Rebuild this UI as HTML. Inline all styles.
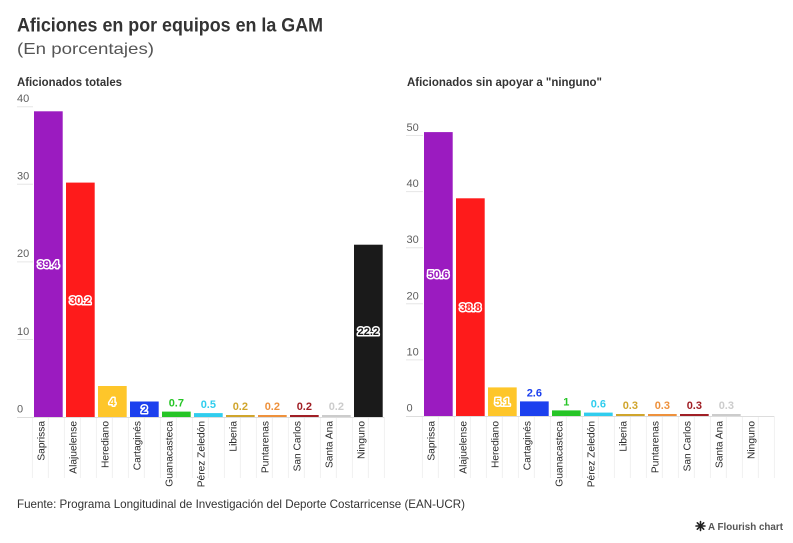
<!DOCTYPE html>
<html>
<head>
<meta charset="utf-8">
<style>
html,body{margin:0;padding:0;background:#fff;}
svg{display:block;}
text{font-family:"Liberation Sans",sans-serif;}
.ax{font-size:11px;fill:#5e5e5e;}
.cat{font-size:10.2px;fill:#2a2a2a;}
.v{font-size:11px;font-weight:bold;stroke:#fff;stroke-width:3px;paint-order:stroke;stroke-linejoin:round;}
</style>
</head>
<body>
<svg width="793" height="543" viewBox="0 0 793 543" xmlns="http://www.w3.org/2000/svg">
<rect width="793" height="543" fill="#fff"/>
<!-- titles -->
<text x="17" y="31.7" font-size="19" font-weight="bold" fill="#333" textLength="306" lengthAdjust="spacingAndGlyphs">Aficiones en por equipos en la GAM</text>
<text x="17" y="54" font-size="16" fill="#555" textLength="137" lengthAdjust="spacingAndGlyphs">(En porcentajes)</text>
<text x="17" y="86" font-size="12" font-weight="bold" fill="#333" textLength="105" lengthAdjust="spacingAndGlyphs">Aficionados totales</text>
<text x="407" y="86" font-size="12" font-weight="bold" fill="#333" textLength="195" lengthAdjust="spacingAndGlyphs">Aficionados sin apoyar a "ninguno"</text>

<!-- separators -->
<path stroke="#f0f0f0" stroke-width="1" fill="none" d="M32.4 417V478M48.35 417V478M64.4 417V478M80.35 417V478M96.4 417V478M112.35 417V478M128.4 417V478M144.35 417V478M160.4 417V478M176.35 417V478M192.4 417V478M208.35 417V478M224.4 417V478M240.35 417V478M256.4 417V478M272.35 417V478M288.4 417V478M304.35 417V478M320.4 417V478M336.35 417V478M352.4 417V478M368.35 417V478M384.4 417V478"/>
<path stroke="#f0f0f0" stroke-width="1" fill="none" d="M422.4 416V478M438.35 416V478M454.4 416V478M470.35 416V478M486.4 416V478M502.35 416V478M518.4 416V478M534.35 416V478M550.4 416V478M566.35 416V478M582.4 416V478M598.35 416V478M614.4 416V478M630.35 416V478M646.4 416V478M662.35 416V478M678.4 416V478M694.35 416V478M710.4 416V478M726.35 416V478M742.4 416V478M758.35 416V478M774.4 416V478"/>

<!-- left axis -->
<path stroke="#e6e6e6" stroke-width="1" d="M17 106.7H33M17 184.3H33M17 261.9H33M17 339.5H33"/>
<path stroke="#dddddd" stroke-width="1" d="M17 417.5H384"/>
<text class="ax" x="17" y="102">40</text>
<text class="ax" x="17" y="179.6">30</text>
<text class="ax" x="17" y="257.2">20</text>
<text class="ax" x="17" y="334.8">10</text>
<text class="ax" x="17" y="412.5">0</text>

<!-- left bars -->
<rect x="34" y="111.3" width="28.7" height="305.7" fill="#9b1bc0"/>
<rect x="66" y="182.6" width="28.7" height="234.4" fill="#fe1b1b"/>
<rect x="98" y="386" width="28.7" height="31" fill="#fec62a"/>
<rect x="130" y="401.5" width="28.7" height="15.5" fill="#1c40ee"/>
<rect x="162" y="411.6" width="28.7" height="5.4" fill="#26c526"/>
<rect x="194" y="413.1" width="28.7" height="3.9" fill="#30cdee"/>
<rect x="226" y="415" width="28.7" height="2" fill="#d0a52c"/>
<rect x="258" y="415" width="28.7" height="2" fill="#ee913c"/>
<rect x="290" y="415" width="28.7" height="2" fill="#a01f25"/>
<rect x="322" y="415" width="28.7" height="2" fill="#cccccc"/>
<rect x="354" y="244.7" width="28.7" height="172.3" fill="#1a1a1a"/>

<!-- left values -->
<g text-anchor="middle">
<text class="v" x="48.35" y="268" fill="#9b1bc0">39.4</text>
<text class="v" x="80.35" y="303.8" fill="#fe1b1b">30.2</text>
<text class="v" x="112.35" y="405.5" fill="#fec62a" font-size="13">4</text>
<text class="v" x="144.35" y="413.2" fill="#1c40ee">2</text>
<text class="v" x="176.35" y="406.6" fill="#26c526">0.7</text>
<text class="v" x="208.35" y="408.1" fill="#30cdee">0.5</text>
<text class="v" x="240.35" y="410" fill="#d0a52c">0.2</text>
<text class="v" x="272.35" y="410" fill="#ee913c">0.2</text>
<text class="v" x="304.35" y="410" fill="#a01f25">0.2</text>
<text class="v" x="336.35" y="410" fill="#cccccc">0.2</text>
<text class="v" x="368.35" y="334.9" fill="#1a1a1a">22.2</text>
</g>

<!-- left categories -->
<g text-anchor="end">
<text class="cat" transform="translate(44.5,421) rotate(-90)">Saprissa</text>
<text class="cat" transform="translate(76.5,421) rotate(-90)">Alajuelense</text>
<text class="cat" transform="translate(108.5,421) rotate(-90)">Herediano</text>
<text class="cat" transform="translate(140.5,421) rotate(-90)">Cartaginés</text>
<text class="cat" transform="translate(172.5,421) rotate(-90)">Guanacasteca</text>
<text class="cat" transform="translate(204.5,421) rotate(-90)">Pérez Zeledón</text>
<text class="cat" transform="translate(236.5,421) rotate(-90)">Liberia</text>
<text class="cat" transform="translate(268.5,421) rotate(-90)">Puntarenas</text>
<text class="cat" transform="translate(300.5,421) rotate(-90)">San Carlos</text>
<text class="cat" transform="translate(332.5,421) rotate(-90)">Santa Ana</text>
<text class="cat" transform="translate(364.5,421) rotate(-90)">Ninguno</text>
</g>

<!-- right axis -->
<path stroke="#e6e6e6" stroke-width="1" d="M406 135.5H423M406 191.6H423M406 247.7H423M406 303.8H423M406 359.9H423"/>
<path stroke="#dddddd" stroke-width="1" d="M406 416.5H774"/>
<text class="ax" x="406.5" y="131">50</text>
<text class="ax" x="406.5" y="187.1">40</text>
<text class="ax" x="406.5" y="243.2">30</text>
<text class="ax" x="406.5" y="299.3">20</text>
<text class="ax" x="406.5" y="355.4">10</text>
<text class="ax" x="406.5" y="411.5">0</text>

<!-- right bars -->
<rect x="424" y="132.1" width="28.7" height="283.9" fill="#9b1bc0"/>
<rect x="456" y="198.3" width="28.7" height="217.7" fill="#fe1b1b"/>
<rect x="488" y="387.4" width="28.7" height="28.6" fill="#fec62a"/>
<rect x="520" y="401.4" width="28.7" height="14.6" fill="#1c40ee"/>
<rect x="552" y="410.4" width="28.7" height="5.6" fill="#26c526"/>
<rect x="584" y="412.6" width="28.7" height="3.4" fill="#30cdee"/>
<rect x="616" y="414" width="28.7" height="2" fill="#d0a52c"/>
<rect x="648" y="414" width="28.7" height="2" fill="#ee913c"/>
<rect x="680" y="414" width="28.7" height="2" fill="#a01f25"/>
<rect x="712" y="414" width="28.7" height="2" fill="#cccccc"/>

<!-- right values -->
<g text-anchor="middle">
<text class="v" x="438.35" y="278" fill="#9b1bc0">50.6</text>
<text class="v" x="470.35" y="311" fill="#fe1b1b">38.8</text>
<text class="v" x="502.35" y="405.7" fill="#fec62a">5.1</text>
<text class="v" x="534.35" y="396.4" fill="#1c40ee">2.6</text>
<text class="v" x="566.35" y="405.4" fill="#26c526">1</text>
<text class="v" x="598.35" y="407.6" fill="#30cdee">0.6</text>
<text class="v" x="630.35" y="409" fill="#d0a52c">0.3</text>
<text class="v" x="662.35" y="409" fill="#ee913c">0.3</text>
<text class="v" x="694.35" y="409" fill="#a01f25">0.3</text>
<text class="v" x="726.35" y="409" fill="#cccccc">0.3</text>
</g>

<!-- right categories -->
<g text-anchor="end">
<text class="cat" transform="translate(434.5,421) rotate(-90)">Saprissa</text>
<text class="cat" transform="translate(466.5,421) rotate(-90)">Alajuelense</text>
<text class="cat" transform="translate(498.5,421) rotate(-90)">Herediano</text>
<text class="cat" transform="translate(530.5,421) rotate(-90)">Cartaginés</text>
<text class="cat" transform="translate(562.5,421) rotate(-90)">Guanacasteca</text>
<text class="cat" transform="translate(594.5,421) rotate(-90)">Pérez Zeledón</text>
<text class="cat" transform="translate(626.5,421) rotate(-90)">Liberia</text>
<text class="cat" transform="translate(658.5,421) rotate(-90)">Puntarenas</text>
<text class="cat" transform="translate(690.5,421) rotate(-90)">San Carlos</text>
<text class="cat" transform="translate(722.5,421) rotate(-90)">Santa Ana</text>
<text class="cat" transform="translate(754.5,421) rotate(-90)">Ninguno</text>
</g>

<!-- footer -->
<text x="17" y="508" font-size="12" fill="#333" textLength="448" lengthAdjust="spacingAndGlyphs">Fuente: Programa Longitudinal de Investigación del Deporte Costarricense (EAN-UCR)</text>
<g stroke="#222" stroke-width="1.6" stroke-linecap="round">
<path d="M700.5 521.5V530.5M696 526H705M697.3 522.8L703.7 529.2M697.3 529.2L703.7 522.8"/>
</g>
<text x="708" y="530" font-size="10" font-weight="bold" fill="#555" textLength="75" lengthAdjust="spacingAndGlyphs">A Flourish chart</text>
</svg>
</body>
</html>
